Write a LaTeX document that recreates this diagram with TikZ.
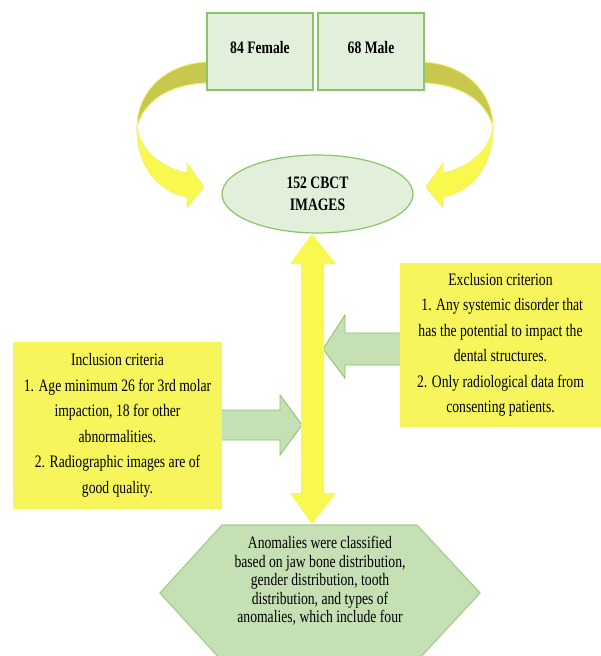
\documentclass[tikz,border=0pt]{standalone}
\usepackage{fontspec}
\setmainfont{Liberation Serif}[FakeStretch=0.78]
\usetikzlibrary{shapes.geometric,calc}
\definecolor{boxgreen}{HTML}{E2EFDA}
\definecolor{boxedge}{HTML}{8CC46A}
\definecolor{hexgreen}{HTML}{C5E0B4}
\definecolor{hexedge}{HTML}{A3CF86}
\definecolor{crityellow}{HTML}{F6F65C}
\definecolor{arrowyellow}{HTML}{F8F84E}
\definecolor{olivearrow}{HTML}{C8C84E}
\definecolor{glow}{HTML}{F2F27A}
\begin{document}
\begin{tikzpicture}[x=1pt,y=-1pt,
  txt/.style={font=\fontsize{17.5}{25.5}\selectfont, align=center},
  topbox/.style={draw=boxedge, fill=boxgreen, line width=1.2pt, minimum width=106pt,
    minimum height=77pt, inner sep=0pt, font=\fontsize{17.5}{20}\selectfont\bfseries, text depth=9pt},
  critbox/.style={fill=crityellow, inner sep=0pt, txt},
  greenarrow/.style={fill=hexgreen, draw=boxedge, line width=0.9pt, line join=miter},
  backface/.style={fill=olivearrow, draw=glow, line width=0.9pt},
  frontface/.style={fill=arrowyellow, draw=glow, line width=0.9pt}]
\fill[white] (0,0) rectangle (601,656);
\clip (0,0) rectangle (601,656);

% curved arrows (right one, then its mirror image on the left)
\begin{scope}
  \path[backface] (420,62) .. controls (462,62) and (493,90) .. (493,127)
     .. controls (486,100) and (458,83) .. (420,83) -- cycle;
  \path[frontface] (493,127) .. controls (494,165) and (472,192) .. (443,197)
     -- (443,208) -- (426,187) -- (443,163) -- (443,173)
     .. controls (470,167) and (490,150) .. (493,127) -- cycle;
\end{scope}
\begin{scope}[xshift=630pt, xscale=-1]
  \path[backface] (420,62) .. controls (462,62) and (493,90) .. (493,127)
     .. controls (486,100) and (458,83) .. (420,83) -- cycle;
  \path[frontface] (493,127) .. controls (494,165) and (472,192) .. (443,197)
     -- (443,208) -- (426,187) -- (443,163) -- (443,173)
     .. controls (470,167) and (490,150) .. (493,127) -- cycle;
\end{scope}

% top boxes
\node[topbox] (female) at (260,51.5) {84 Female};
\node[topbox] (male) at (371,51.5) {68 Male};

% ellipse
\node[ellipse, draw=boxedge, fill=boxgreen, line width=1.2pt, minimum width=191pt,
  minimum height=78pt, inner sep=0pt, font=\fontsize{17.5}{22}\selectfont\bfseries, align=center]
  (cbct) at (317.5,194) {152 CBCT\\IMAGES};

% green arrows
\path[greenarrow] (215,410) -- (280,410) -- (280,395) -- (302,425) -- (280,455) -- (280,440) -- (215,440) -- cycle;
\path[greenarrow] (408,333) -- (345,333) -- (345,315) -- (323,349) -- (345,378) -- (345,365) -- (408,365) -- cycle;

% criteria boxes
\node[critbox, minimum width=209pt, minimum height=167pt] (incl) at (117.5,425.5)
  {Inclusion criteria\\1. Age minimum 26 for 3rd molar\\impaction, 18 for other\\abnormalities.\\2. Radiographic images are of\\good quality.};
\node[critbox, minimum width=201pt, minimum height=164pt] (excl) at (500.5,345)
  {Exclusion criterion\\\ 1. Any systemic disorder that\\has the potential to impact the\\dental structures.\\2. Only radiological data from\\consenting patients.};

% hexagon
\path[fill=hexgreen, draw=hexedge, line width=1.2pt]
  (222,525) -- (417,525) -- (480,593) -- (417,661) -- (222,661) -- (160,593) -- cycle;
\node[txt, font=\fontsize{17.5}{18.5}\selectfont, inner sep=0pt] (anom) at (320,581)
  {Anomalies were classified\\based on jaw bone distribution,\\gender distribution, tooth\\distribution, and types of\\anomalies, which include four};

% vertical double arrow between the ellipse and the hexagon
\coordinate (vtop) at (312,234);
\coordinate (vbot) at (312,524);
\fill[arrowyellow] (vtop) -- ++(24,30) -- ++(-12,0) |- ($(vbot)+(12,-31)$) -- ++(12,0)
  -- (vbot) -- ++(-22,-31) -- ++(11,0) |- ($(vtop)+(-11,30)$) -- ++(-11,0) -- cycle;
\end{tikzpicture}
\end{document}
